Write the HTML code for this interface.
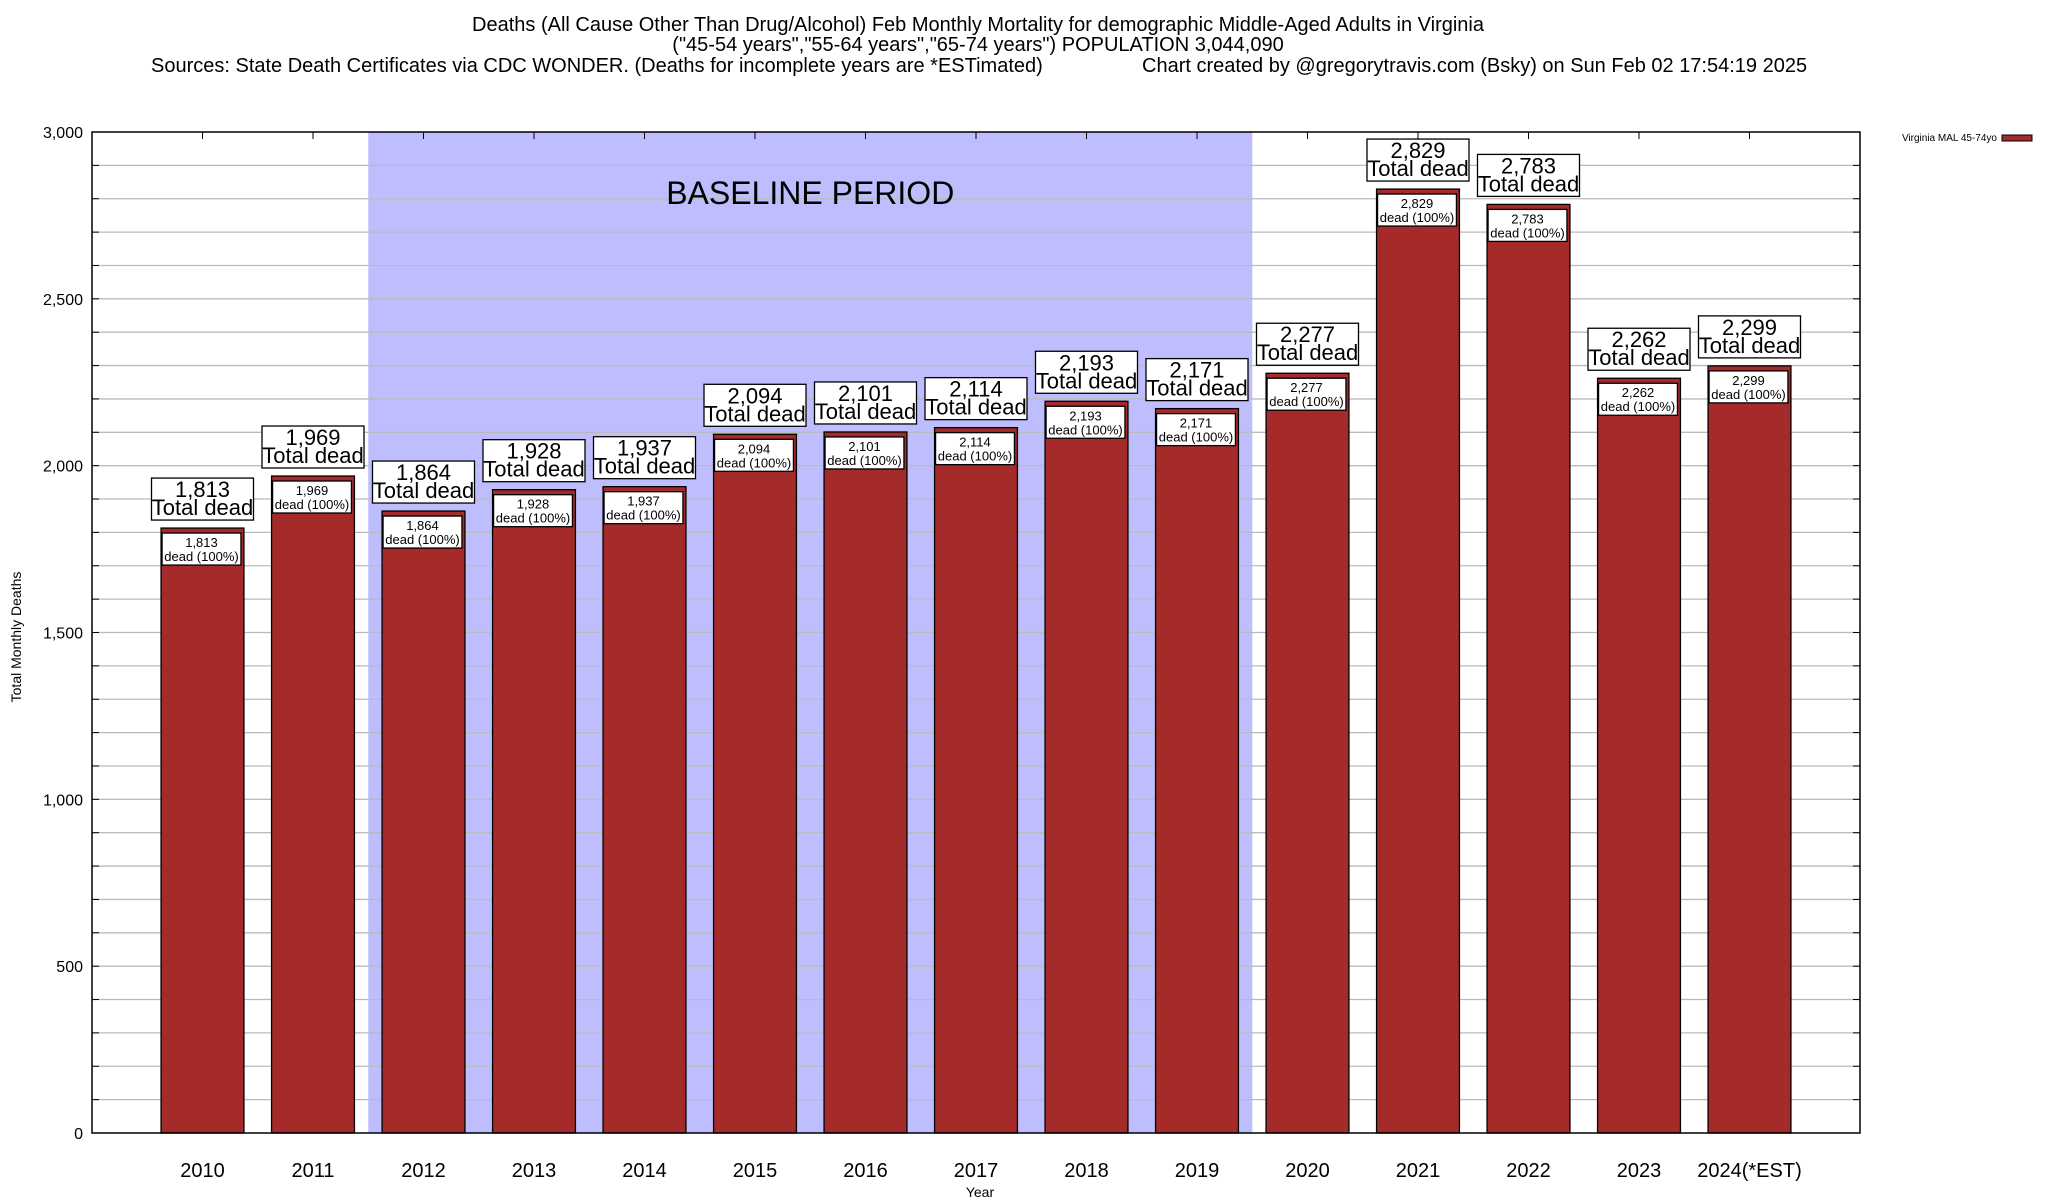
<!DOCTYPE html>
<html><head><meta charset="utf-8"><style>
html,body{margin:0;padding:0;background:#fff;}
svg{display:block;font-family:"Liberation Sans",Arial,sans-serif;}
</style></head><body>
<svg id="chart" width="2048" height="1200" viewBox="0 0 2048 1200">
<g font-size="20" fill="#000">
<text x="978" y="31" text-anchor="middle">Deaths (All Cause Other Than Drug/Alcohol) Feb Monthly Mortality for demographic Middle-Aged Adults in Virginia</text>
<text x="978" y="51" text-anchor="middle">("45-54 years","55-64 years","65-74 years") POPULATION 3,044,090</text>
<text x="151" y="72">Sources: State Death Certificates via CDC WONDER. (Deaths for incomplete years are *ESTimated)</text>
<text x="1142" y="72">Chart created by @gregorytravis.com (Bsky) on Sun Feb 02 17:54:19 2025</text>
</g>
<g id="plot"></g>
<g>
<text x="1997" y="141" font-size="10" text-anchor="end">Virginia MAL 45-74yo</text>
<rect x="2002" y="135" width="30" height="6" fill="#a52a2a" stroke="#000" stroke-width="1"/>
</g>
<text x="0" y="0" font-size="14" text-anchor="middle" transform="translate(21,637) rotate(-90)">Total Monthly Deaths</text>
<text x="980" y="1197" font-size="14" text-anchor="middle">Year</text>
</svg>
<script>
const categories = ["2010","2011","2012","2013","2014","2015","2016","2017","2018","2019","2020","2021","2022","2023","2024(*EST)"];
const deaths = [1813,1969,1864,1928,1937,2094,2101,2114,2193,2171,2277,2829,2783,2262,2299];
const yTicks = [0,500,1000,1500,2000,2500,3000];
const baselineStart = 2, baselineEnd = 9;

const L=92,R=1860,T=132,B=1133,yMax=3000;
const slot=(R-L)/(categories.length+1);
const xC=i=>L+slot*(i+1);
const yS=v=>B-(v/yMax)*(B-T);
const NS="http://www.w3.org/2000/svg";
const plot=document.getElementById('plot');
function mk(tag,attrs,parent){const e=document.createElementNS(NS,tag);for(const k in attrs)e.setAttribute(k,attrs[k]);(parent||plot).appendChild(e);return e;}
const fmt=v=>v.toLocaleString('en-US');

const bl=mk('rect',{x:xC(baselineStart)-slot/2,y:T,width:slot*(baselineEnd-baselineStart+1),height:B-T,fill:'#bebefe'});


for(let v=100;v<yMax;v+=100){
  const g=mk('line',{x1:L,x2:R,y1:yS(v),y2:yS(v),stroke:'#bbb','stroke-width':1.3});
  
  
  mk('line',{x1:L,x2:L+7,y1:yS(v),y2:yS(v),stroke:'#000'});
  mk('line',{x1:R-7,x2:R,y1:yS(v),y2:yS(v),stroke:'#000'});
}
const bt=mk('text',{x:(xC(baselineStart)+xC(baselineEnd))/2,y:204,'font-size':32,'text-anchor':'middle'});
bt.textContent='BASELINE PERIOD';


yTicks.forEach(v=>{
  const t=mk('text',{x:83,y:yS(v)+6,'font-size':16,'text-anchor':'end'});
  t.textContent=fmt(v);
  
  
});
categories.forEach((c,i)=>{
  const v=deaths[i],x=xC(i),w=slot*0.75,top=yS(v);
  const b=mk('rect',{x:x-w/2,y:top,width:w,height:B-top,fill:'#a52a2a',stroke:'#000','stroke-width':1.3});
  
  
  mk('line',{x1:x,x2:x,y1:T,y2:T+7,stroke:'#000'});
  const ib=mk('rect',{x:x-w/2+1,y:top+5,width:w-4,height:32,fill:'#fff',stroke:'#000','stroke-width':1.3});
  
  
  const it=mk('text',{x:x-1,y:top+19,'font-size':13,'text-anchor':'middle'});
  it.textContent=fmt(v);
  
  
  const it2=mk('text',{x:x-1,y:top+33,'font-size':13,'text-anchor':'middle'});
  it2.textContent='dead (100%)';
  const tb=mk('rect',{x:x-51,y:top-50,width:102,height:42,fill:'#fff',stroke:'#000','stroke-width':1.3});
  
  
  const t1=mk('text',{x:x,y:top-31,'font-size':22,'text-anchor':'middle'});
  t1.textContent=fmt(v);
  
  
  const t2=mk('text',{x:x,y:top-13,'font-size':22,'text-anchor':'middle'});
  t2.textContent='Total dead';
  const xl=mk('text',{x:x,y:1177,'font-size':20,'text-anchor':'middle'});
  xl.textContent=c;
  
  
});
const frame=mk('rect',{x:L,y:T,width:R-L,height:B-T,fill:'none',stroke:'#000','stroke-width':1.5});


</script>
</body></html>
